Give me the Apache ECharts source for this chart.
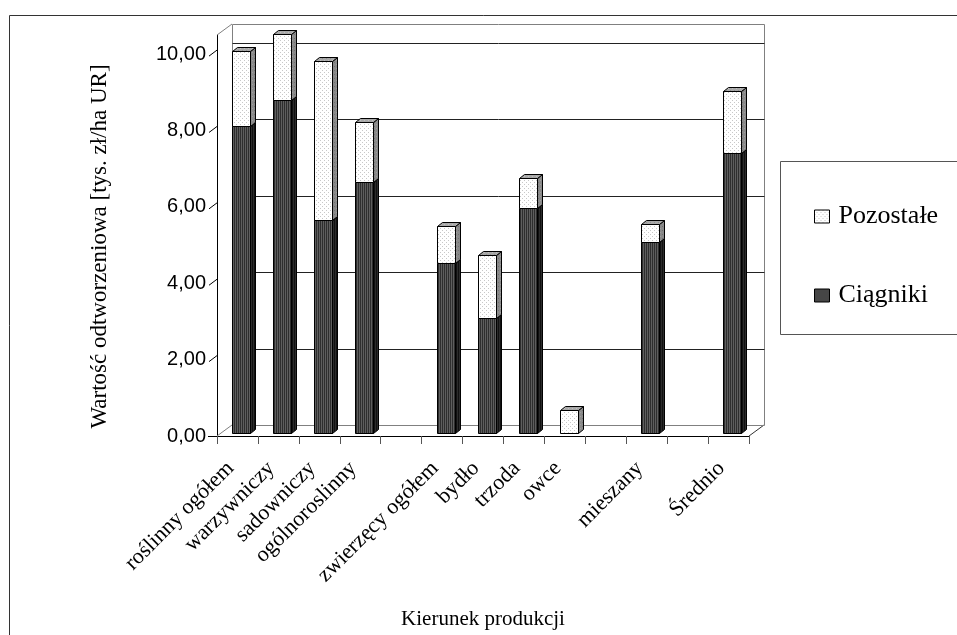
<!DOCTYPE html>
<html>
<head>
<meta charset="utf-8">
<script src="https://cdn.jsdelivr.net/npm/echarts@6/dist/echarts.min.js"></script>
<style>html,body{margin:0;padding:0;background:#fff}#c{width:957px;height:635px}</style>
</head>
<body>
<div id="c"></div>
<script>
// ---- data ----
const categories = ['roślinny ogółem','warzywniczy','sadowniczy','ogólnoroslinny','','zwierzęcy ogółem','bydło','trzoda','owce','','mieszany','','Średnio'];
const ciagniki  = [8.04, 8.71, 5.57, 6.56, null, 4.44, 3.02, 5.88, 0,    null, 5.01, null, 7.32];
const pozostale = [1.96, 1.75, 4.17, 1.59, null, 0.98, 1.65, 0.79, 0.60, null, 0.45, null, 1.64];
const yTicks = [0, 2, 4, 6, 8, 10];
const seriesNames = ['Pozostałe', 'Ciągniki'];

// ---- patterns ----
function makePattern(w, h, base, dots) {
  const cv = document.createElement('canvas');
  cv.width = w; cv.height = h;
  const g = cv.getContext('2d');
  g.fillStyle = base; g.fillRect(0, 0, w, h);
  dots.forEach(d => { g.fillStyle = d[2]; g.fillRect(d[0], d[1], d[3] || 1, d[4] || 1); });
  return { image: cv, repeat: 'repeat' };
}
const darkFront = makePattern(2, 2, '#2e2e2e', [[1,0,'#5e5e5e',1,2]]);
const darkSide  = makePattern(2, 2, '#111111', [[1,0,'#2c2c2c',1,2]]);
const darkTop   = makePattern(2, 2, '#555555', [[1,0,'#777777',1,2]]);
const lightFront = makePattern(4, 4, '#ffffff', [[0,0,'#c8c8c8'],[2,2,'#c8c8c8']]);
const lightSide  = makePattern(4, 4, '#8a8a8a', [[0,0,'#a0a0a0'],[2,2,'#707070']]);
const lightTop   = makePattern(4, 4, '#a8a8a8', [[0,0,'#c0c0c0'],[2,2,'#909090']]);

// ---- 3D geometry (pixels) ----
const WALL = [15, -11];   // depth offset of back wall
const BAR_OFF = [4, -3];  // front face of bars set back
const BAR_D = [5, -4];    // bar depth
const BAR_W = 0.45;

function barRenderer(front, side, top) {
  return function (params, api) {
    const cat = api.value(0), lo = api.value(1), hi = api.value(2);
    if (!(hi > lo)) return;
    const p0 = api.coord([cat, lo]);
    const p1 = api.coord([cat, hi]);
    const bw = api.size([1, 0])[0];
    const w = bw * BAR_W;
    const fx = Math.round(p0[0] + BAR_OFF[0] - w / 2) + 0.5;
    const fy0 = Math.round(p0[1] + BAR_OFF[1]) + 0.5;
    const fy1 = Math.round(p1[1] + BAR_OFF[1]) + 0.5;
    const ww = Math.round(w);
    const sx = BAR_D[0], sy = BAR_D[1];
    const ls = { stroke: '#000', lineWidth: 1 };
    return {
      type: 'group',
      children: [
        { type: 'polygon', shape: { points: [[fx + ww, fy1], [fx + ww + sx, fy1 + sy], [fx + ww + sx, fy0 + sy], [fx + ww, fy0]] },
          style: Object.assign({ fill: side }, ls) },
        { type: 'polygon', shape: { points: [[fx, fy1], [fx + sx, fy1 + sy], [fx + ww + sx, fy1 + sy], [fx + ww, fy1]] },
          style: Object.assign({ fill: top }, ls) },
        { type: 'rect', shape: { x: fx, y: fy1, width: ww, height: fy0 - fy1 },
          style: Object.assign({ fill: front }, ls) }
      ]
    };
  };
}

function frameRenderer(params, api) {
  const cs = params.coordSys;
  const x0 = cs.x, x1 = cs.x + cs.width, yb = cs.y + cs.height, yt = cs.y;
  const dx = WALL[0], dy = WALL[1];
  const ch = [];
  const gray = '#808080';
  const P = v => Math.round(v) + 0.5;
  ch.push({ type: 'polyline', shape: { points: [[P(x0 + dx), P(yb + dy)], [P(x0 + dx), P(yt + dy)], [P(x1 + dx), P(yt + dy)], [P(x1 + dx), P(yb + dy)]] }, style: { stroke: gray, lineWidth: 1, fill: null } });
  ch.push({ type: 'line', shape: { x1: x0, y1: yt, x2: x0 + dx, y2: yt + dy }, style: { stroke: gray, lineWidth: 1 } });
  ch.push({ type: 'line', shape: { x1: x0, y1: yb, x2: x0 + dx, y2: yb + dy }, style: { stroke: gray, lineWidth: 1 } });
  ch.push({ type: 'line', shape: { x1: x1, y1: yb, x2: x1 + dx, y2: yb + dy }, style: { stroke: '#333', lineWidth: 1 } });
  yTicks.forEach(v => {
    const p = api.coord([0, v]);
    const y = p[1];
    ch.push({ type: 'line', shape: { x1: P(x0 + dx), y1: P(y + dy), x2: P(x1 + dx), y2: P(y + dy) },
      style: { stroke: v === 0 ? gray : '#222', lineWidth: 1 } });
    if (v === 0) {
      ch.push({ type: 'line', shape: { x1: x0 - 9, y1: P(y), x2: x0, y2: P(y) }, style: { stroke: '#000', lineWidth: 1 } });
    } else {
      ch.push({ type: 'line', shape: { x1: x0 - 8, y1: y + 2, x2: x0, y2: y - 4 }, style: { stroke: '#000', lineWidth: 1 } });
    }
  });
  return { type: 'group', children: ch };
}

const lowerData = [], upperData = [];
categories.forEach((c, i) => {
  if (ciagniki[i] == null && pozostale[i] == null) return;
  const a = ciagniki[i] || 0, b = pozostale[i] || 0;
  lowerData.push([i, 0, a]);
  upperData.push([i, a, a + b]);
});

const chart = echarts.init(document.getElementById('c'), null, { renderer: 'canvas' });
chart.setOption({
  animation: false,
  backgroundColor: '#fff',
  grid: { left: 217, right: 208, top: 35, bottom: 195, containLabel: false },
  xAxis: {
    type: 'category',
    data: categories,
    name: 'Kierunek produkcji',
    nameLocation: 'middle',
    nameGap: 173,
    nameTextStyle: { fontFamily: 'Liberation Serif', fontSize: 21, color: '#000' },
    axisLine: { lineStyle: { color: '#000', width: 1 } },
    axisTick: { show: true, length: 8, interval: 0, lineStyle: { color: '#555' } },
    axisLabel: { interval: 0, rotate: 45, margin: 22, padding: [0, 10, 0, 0],
      fontFamily: 'Liberation Serif', fontSize: 22, color: '#000' },
    splitLine: { show: false }
  },
  yAxis: {
    type: 'value',
    min: 0, max: 10.5, interval: 2,
    name: 'Wartość odtworzeniowa [tys. zł/ha UR]',
    nameLocation: 'middle',
    nameGap: 106,
    nameRotate: 90,
    nameTextStyle: { fontFamily: 'Liberation Serif', fontSize: 23, color: '#000', padding: [0, 22, 0, 0] },
    axisLine: { show: true, lineStyle: { color: '#000', width: 1 } },
    axisTick: { show: false },
    splitLine: { show: false },
    axisLabel: { margin: 11, showMaxLabel: false, fontFamily: 'Liberation Sans', fontSize: 20, color: '#000',
      formatter: v => v.toFixed(2).replace('.', ',') }
  },
  legend: {
    orient: 'vertical',
    left: 809, top: 198,
    itemWidth: 15, itemHeight: 13, itemGap: 52,
    selectedMode: false,
    icon: 'rect',
    textStyle: { fontFamily: 'Liberation Serif', fontSize: 26, color: '#000', lineHeight: 27, padding: [0, 0, 0, 4] },
    data: [
      { name: seriesNames[0], itemStyle: { color: lightFront, borderColor: '#000', borderWidth: 1 } },
      { name: seriesNames[1], itemStyle: { color: darkFront, borderColor: '#000', borderWidth: 1 } }
    ]
  },
  graphic: [
    { type: 'rect', shape: { x: 9.5, y: 15.5, width: 1000, height: 700 }, style: { fill: null, stroke: '#333', lineWidth: 1 }, silent: true },
    { type: 'rect', shape: { x: 780.5, y: 161.5, width: 200, height: 173 }, style: { fill: null, stroke: '#555', lineWidth: 1 }, silent: true }
  ],
  series: [
    { type: 'custom', name: '_frame', renderItem: frameRenderer, data: [[0, 0]], encode: { x: 0, y: 1 }, z: 1, silent: true },
    { type: 'custom', name: seriesNames[1], renderItem: barRenderer(darkFront, darkSide, darkTop),
      data: lowerData, encode: { x: 0, y: [1, 2] }, z: 2, itemStyle: { color: darkFront } },
    { type: 'custom', name: seriesNames[0], renderItem: barRenderer(lightFront, lightSide, lightTop),
      data: upperData, encode: { x: 0, y: [1, 2] }, z: 3, itemStyle: { color: lightFront } }
  ]
});
</script>
</body>
</html>
